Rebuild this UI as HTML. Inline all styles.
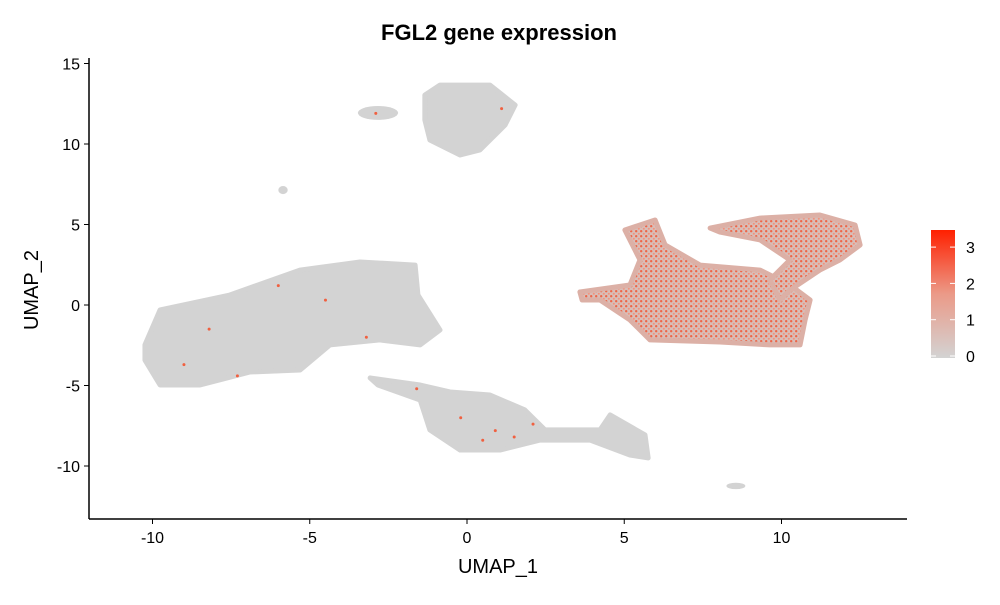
<!DOCTYPE html>
<html><head><meta charset="utf-8"><style>
body{margin:0;background:#fff}
svg text{font-family:"Liberation Sans",sans-serif}
</style></head><body>
<svg id="chart" width="1000" height="600" xmlns="http://www.w3.org/2000/svg">
<defs>
<pattern id="mix" width="5" height="5" patternUnits="userSpaceOnUse">
<rect width="5" height="5" fill="#d8beb8"/>
<circle cx="1.2" cy="1.2" r="1.2" fill="#ee6548"/>
<circle cx="3.8" cy="3.8" r="1" fill="#f4907a"/>
</pattern>
<linearGradient id="cbar" x1="0" y1="1" x2="0" y2="0">
<stop offset="0" stop-color="#d3d3d3"/><stop offset="0.5" stop-color="#eb9a88"/><stop offset="1" stop-color="#ff2000"/>
</linearGradient>
</defs>
<text x="499" y="40" text-anchor="middle" font-size="22" font-weight="bold">FGL2 gene expression</text>
<g id="clusters"></g>
<g id="points"></g>
<g id="axes"></g>
<text x="498" y="573" text-anchor="middle" font-size="20">UMAP_1</text>
<text transform="translate(38,290) rotate(-90)" text-anchor="middle" font-size="20">UMAP_2</text>
<g>
<rect x="931" y="230" width="24" height="128" fill="url(#cbar)"/>
<g id="legend"></g>
</g>
</svg>
<script>
const xTicks=[-10,-5,0,5,10];
const yTicks=[-10,-5,0,5,10,15];
const legendTicks=[0,1,2,3];
const bigLeft=[[-10.24,-2.48],[-9.76,-0.31],[-7.54,0.62],[-5.31,2.17],[-3.4,2.67],[-1.65,2.48],[-1.56,0.62],[-0.86,-1.55],[-1.49,-2.48],[-2.77,-2.17],[-4.36,-2.48],[-5.31,-4.04],[-6.9,-4.16],[-8.49,-4.97],[-9.76,-4.97],[-10.24,-3.42]];
const topCluster=[[-1.34,13.04],[-0.86,13.66],[0.73,13.66],[1.53,12.42],[1.21,11.18],[0.41,9.63],[-0.22,9.32],[-1.18,10.25],[-1.34,11.49]];
const bottomCluster=[[-3.08,-4.53],[-1.49,-4.97],[-0.54,-5.4],[0.73,-5.59],[1.84,-6.52],[2.48,-7.76],[4.23,-7.76],[4.55,-6.83],[5.66,-8.07],[5.76,-9.5],[5.18,-9.32],[3.91,-8.39],[2.32,-8.39],[1.05,-9.01],[-0.22,-9.01],[-1.18,-7.76],[-1.49,-5.9],[-2.83,-4.97]];
const rightMain=[[3.59,0.81],[5.18,1.24],[5.5,2.8],[5.02,4.66],[5.98,5.28],[6.3,3.73],[7.41,2.48],[9.32,2.17],[10.27,1.24],[10.91,0.31],[10.75,-0.93],[10.59,-2.48],[9.63,-2.48],[8.04,-2.3],[5.82,-2.17],[5.18,-0.93],[4.23,0.31],[3.66,0.31]];
const rightArm=[[7.73,4.78],[9.32,5.4],[11.22,5.59],[12.34,4.97],[12.5,3.73],[11.86,2.8],[11.22,2.17],[10.27,0.93],[9.95,0.31],[9.63,1.55],[10.27,2.8],[9.32,4.04],[8.04,4.53]];
const smallBlobs=[[-2.83,11.93,0.64,0.43],[-5.85,7.14,0.15,0.25],[8.55,-11.24,0.3,0.2]];
const redX=[-6.0,-3.2,-9.0,-7.3,-1.6,0.5,2.1,1.5,-0.2,-2.9,1.1,0.9,-4.5,-8.2];
const redY=[1.2,-2.0,-3.7,-4.4,-5.2,-8.4,-7.4,-8.2,-7.0,11.9,12.2,-7.8,0.3,-1.5];
const SX=v=>467+v*31.45, SY=v=>305-v*16.1;
const NS="http://www.w3.org/2000/svg";
function mk(tag,parent,attrs){const e=document.createElementNS(NS,tag);for(const k in attrs)e.setAttribute(k,attrs[k]);parent.appendChild(e);return e;}
const cl=document.getElementById('clusters');
function poly(pts,fill,name){const p=mk('polygon',cl,{points:pts.map(d=>SX(d[0])+','+SY(d[1])).join(' '),fill:fill,stroke:fill==='#d3d3d3'?'#d3d3d3':'#dcb0a6','stroke-width':5,'stroke-linejoin':'round'});

}
poly(bigLeft,'#d3d3d3','cluster-left');
poly(topCluster,'#d3d3d3','cluster-top');
poly(bottomCluster,'#d3d3d3','cluster-bottom');
poly(rightMain,'url(#mix)','cluster-right-main');
poly(rightArm,'url(#mix)','cluster-right-arm');
smallBlobs.forEach(b=>{const e=mk('ellipse',cl,{cx:SX(b[0]),cy:SY(b[1]),rx:b[2]*31.45,ry:b[3]*16.1,fill:'#d3d3d3'});

});
const pg=document.getElementById('points');
redX.forEach((x,i)=>{const c=mk('circle',pg,{cx:SX(x),cy:SY(redY[i]),r:1.5,fill:'#f06040'});

});
const ax=document.getElementById('axes');
const xl=mk('line',ax,{x1:89,y1:519,x2:907,y2:519,stroke:'#000','stroke-width':1.5});


const yl=mk('line',ax,{x1:89,y1:58,x2:89,y2:519,stroke:'#000','stroke-width':1.5});


xTicks.forEach(t=>{mk('line',ax,{x1:SX(t),x2:SX(t),y1:519,y2:524,stroke:'#000'});
const tx=mk('text',ax,{x:SX(t),y:543,'text-anchor':'middle','font-size':16,fill:'#000'});tx.textContent=t;

});
yTicks.forEach(t=>{mk('line',ax,{x1:84,x2:89,y1:SY(t),y2:SY(t),stroke:'#000'});
const tx=mk('text',ax,{x:80,y:SY(t)+6,'text-anchor':'end','font-size':16,fill:'#000'});tx.textContent=t;

});
const lg=document.getElementById('legend');
legendTicks.forEach(t=>{const y=356-t*36.3;
mk('line',lg,{x1:931,x2:936,y1:y,y2:y,stroke:'#fff'});mk('line',lg,{x1:950,x2:955,y1:y,y2:y,stroke:'#fff'});
const tx=mk('text',lg,{x:966,y:y+6,'font-size':16,fill:'#000'});tx.textContent=t;

});
</script>
</body></html>
